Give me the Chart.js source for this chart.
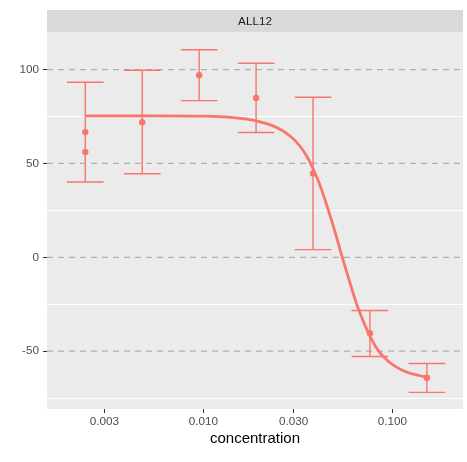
<!DOCTYPE html>
<html>
<head>
<meta charset="utf-8">
<script src="https://cdn.jsdelivr.net/npm/chart.js@4"></script>
<style>
  html, body { margin: 0; padding: 0; background: #fff; }
  canvas { display: block; }
</style>
</head>
<body>
<canvas id="myChart" width="467" height="462"></canvas>
<script>
const panelName = 'ALL12';

// measured responses (two replicates at the lowest dose)
const pointConc = [0.002375, 0.002375, 0.00475, 0.0095, 0.019, 0.038, 0.076, 0.152];
const pointResp = [66.7, 56.1, 72.0, 97.0, 84.9, 44.7, -40.5, -64.2];

// error bars per concentration
const errConc = [0.002375, 0.00475, 0.0095, 0.019, 0.038, 0.076, 0.152];
const errLow  = [40.1, 44.5, 83.5, 66.5, 4.1, -52.9, -72.0];
const errHigh = [93.3, 99.7, 110.6, 103.4, 85.3, -28.4, -56.6];

// fitted dose-response curve
const curveConc = [0.002375, 0.006, 0.010, 0.0135, 0.017, 0.020, 0.023, 0.026, 0.0285, 0.031,
                   0.0335, 0.036, 0.0385, 0.041, 0.044, 0.047, 0.050, 0.053, 0.056, 0.060,
                   0.065, 0.070, 0.076, 0.084, 0.094, 0.106, 0.122, 0.138, 0.152];
const curveResp = [75.4, 75.4, 75.2, 74.7, 73.6, 72.2, 70.3, 67.7, 64.9, 61.5,
                   57.3, 52.1, 46.0, 39.5, 30.5, 21.5, 12.6, 3.6, -4.6, -14.6,
                   -25.6, -34.0, -42.0, -49.6, -55.0, -58.8, -61.6, -63.0, -63.8];

const refLines = [100, 50, 0, -50];
const xTicks = [0.003, 0.01, 0.03, 0.1];
const yTicks = [-75, -50, -25, 0, 25, 50, 75, 100];

const red = '#F8766D';
const capHalf = 18.3;

Chart.defaults.font.family = '"Liberation Sans", Arial, sans-serif';

// grey panel and the facet strip above it
const panelBg = {
  id: 'panelBg',
  beforeDraw(chart) {
    const { ctx, chartArea: a } = chart;
    ctx.save();
    ctx.fillStyle = '#EBEBEB';
    ctx.fillRect(a.left, a.top, a.right - a.left, a.bottom - a.top);
    ctx.fillStyle = '#D9D9D9';
    ctx.fillRect(a.left, 10, a.right - a.left, a.top - 10);
    ctx.fillStyle = '#1A1A1A';
    ctx.font = '11.7px "Liberation Sans", Arial, sans-serif';
    ctx.textAlign = 'center';
    ctx.textBaseline = 'middle';
    ctx.fillText(panelName, (a.left + a.right) / 2, (10 + a.top) / 2 + 0.5);
    ctx.restore();
  }
};

// dashed reference lines + error bars
const refAndErrors = {
  id: 'refAndErrors',
  beforeDatasetsDraw(chart) {
    const { ctx, chartArea: a, scales: { x, y } } = chart;
    ctx.save();
    ctx.strokeStyle = '#B0B0B0';
    ctx.lineWidth = 1.2;
    ctx.setLineDash([6, 5]);
    refLines.forEach(v => {
      const py = y.getPixelForValue(v);
      ctx.beginPath();
      ctx.moveTo(a.left, py);
      ctx.lineTo(a.right, py);
      ctx.stroke();
    });
    ctx.setLineDash([]);
    ctx.strokeStyle = red;
    ctx.lineWidth = 1.4;
    errConc.forEach((c, i) => {
      const px = x.getPixelForValue(c);
      const lo = y.getPixelForValue(errLow[i]);
      const hi = y.getPixelForValue(errHigh[i]);
      ctx.beginPath();
      ctx.moveTo(px, lo); ctx.lineTo(px, hi);
      ctx.moveTo(px - capHalf, lo); ctx.lineTo(px + capHalf, lo);
      ctx.moveTo(px - capHalf, hi); ctx.lineTo(px + capHalf, hi);
      ctx.stroke();
    });
    ctx.restore();
  }
};

const ctx = document.getElementById('myChart').getContext('2d');

const chart = new Chart(ctx, {
  type: 'scatter',
  data: {
    datasets: [
      {
        type: 'line',
        data: curveConc.map((c, i) => ({ x: c, y: curveResp[i] })),
        borderColor: red,
        borderWidth: 2.8,
        pointRadius: 0,
        cubicInterpolationMode: 'monotone',
        fill: false,
        order: 0
      },
      {
        data: pointConc.map((c, i) => ({ x: c, y: pointResp[i] })),
        backgroundColor: red,
        borderWidth: 0,
        pointRadius: 3.2,
        order: 1
      }
    ]
  },
  options: {
    responsive: false,
    animation: false,
    layout: { padding: { top: 32, left: 0, right: 1, bottom: 0 } },
    plugins: { legend: { display: false }, tooltip: { enabled: false } },
    scales: {
      x: {
        type: 'logarithmic',
        min: 0.00149,
        max: 0.236,
        afterBuildTicks: s => { s.ticks = xTicks.map(v => ({ value: v })); },
        afterFit: s => { s.height = 53; },
        border: { display: false },
        grid: { drawOnChartArea: false, drawTicks: true, tickLength: 4, tickColor: '#333333', tickWidth: 1 },
        ticks: {
          color: '#4D4D4D',
          font: { size: 11.7 },
          padding: 2,
          maxRotation: 0,
          autoSkip: false,
          callback: v => Number(v).toFixed(3)
        },
        title: {
          display: true,
          text: 'concentration',
          color: '#000000',
          font: { size: 15 },
          padding: { top: 0, bottom: 14 }
        }
      },
      y: {
        min: -80.85,
        max: 120.05,
        afterBuildTicks: s => { s.ticks = yTicks.map(v => ({ value: v })); },
        afterFit: s => { s.width = 47; },
        border: { display: false },
        grid: {
          color: c => (c.tick && c.tick.value % 50 !== 0) ? '#FFFFFF' : 'rgba(0,0,0,0)',
          lineWidth: 1,
          tickColor: c => (c.tick && c.tick.value % 50 === 0) ? '#333333' : 'rgba(0,0,0,0)',
          tickLength: 4
        },
        ticks: {
          color: '#4D4D4D',
          font: { size: 11.7 },
          padding: 4,
          autoSkip: false,
          callback: v => (v % 50 === 0 ? String(v) : '')
        }
      }
    }
  },
  plugins: [panelBg, refAndErrors]
});
</script>
</body>
</html>
